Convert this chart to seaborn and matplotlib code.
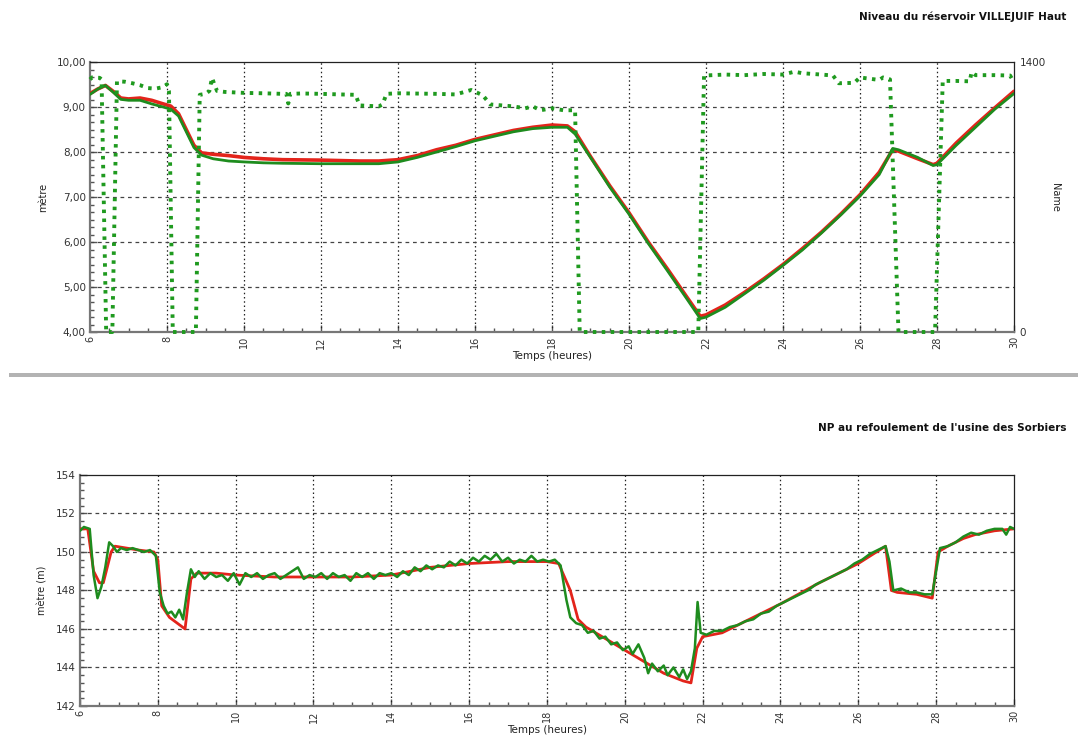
import numpy as np
import pandas as pd
import matplotlib
matplotlib.use("Agg")
import matplotlib.pyplot as plt
from matplotlib.ticker import MultipleLocator, FuncFormatter, FixedLocator
from matplotlib.patches import Rectangle
import seaborn as sns

# ---------------- data : top panel (reservoir level, metres) ----------------
lvl_t = [6.0, 6.2, 6.4, 6.6, 6.8, 7.0, 7.3, 7.6, 7.9, 8.1, 8.3, 8.5, 8.7, 8.9, 9.2, 9.6,
         10.0, 10.5, 11.0, 12.0, 13.0, 13.5, 14.0, 14.5, 15.0, 15.5, 16.0, 16.5, 17.0,
         17.5, 18.0, 18.4, 18.6, 19.0, 19.5, 20.0, 20.5, 21.0, 21.5, 21.85, 22.0, 22.5,
         23.0, 23.5, 24.0, 24.5, 25.0, 25.5, 26.0, 26.5, 26.85, 27.0, 27.5, 27.9, 28.0,
         28.5, 29.0, 29.5, 30.0]
lvl_measured = [9.30, 9.40, 9.48, 9.35, 9.20, 9.18, 9.20, 9.15, 9.07, 9.02, 8.85, 8.50,
                8.15, 7.98, 7.95, 7.92, 7.88, 7.85, 7.83, 7.82, 7.80, 7.80, 7.83, 7.92,
                8.05, 8.15, 8.28, 8.38, 8.48, 8.55, 8.60, 8.58, 8.45, 7.90, 7.25, 6.65,
                6.00, 5.40, 4.78, 4.35, 4.38, 4.60, 4.88, 5.18, 5.50, 5.85, 6.22, 6.62,
                7.05, 7.55, 8.05, 8.02, 7.85, 7.72, 7.75, 8.20, 8.60, 8.98, 9.35]
lvl_simulated = [9.28, 9.40, 9.48, 9.33, 9.17, 9.15, 9.15, 9.07, 9.00, 8.95, 8.80, 8.45,
                 8.10, 7.93, 7.85, 7.80, 7.78, 7.76, 7.75, 7.74, 7.74, 7.74, 7.78, 7.88,
                 8.00, 8.12, 8.25, 8.35, 8.45, 8.52, 8.55, 8.55, 8.40, 7.88, 7.22, 6.62,
                 5.97, 5.36, 4.74, 4.30, 4.33, 4.55, 4.85, 5.15, 5.48, 5.82, 6.20, 6.60,
                 7.02, 7.50, 8.08, 8.05, 7.88, 7.70, 7.72, 8.15, 8.55, 8.95, 9.30]

# pump flow (right axis, 0..1400)
pump_t = [6.0, 6.05, 6.25, 6.3, 6.42, 6.58, 6.7, 6.9, 7.1, 7.3, 7.5, 7.7, 7.9, 8.0, 8.05,
          8.15, 8.75, 8.85, 9.0, 9.1, 9.17, 9.22, 9.3, 9.5, 10.0, 10.5, 11.0, 11.1, 11.15,
          11.2, 11.5, 12.0, 12.5, 12.9, 13.0, 13.5, 13.6, 13.7, 14.0, 15.0, 15.5, 15.9,
          16.2, 16.4, 17.0, 17.3, 17.5, 17.7, 18.0, 18.3, 18.6, 18.72, 21.8, 21.95,
          22.5, 23.0, 23.5, 24.0, 24.3, 24.5, 25.0, 25.3, 25.45, 25.85, 26.0, 26.5,
          26.6, 26.78, 27.0, 27.95, 28.15, 28.5, 28.85, 28.9, 29.0, 29.5, 29.9, 30.0]
pump_flow = [1310, 1320, 1318, 1310, 0, 0, 1300, 1298, 1290, 1280, 1265, 1262, 1270, 1285,
             1250, 0, 0, 1230, 1235, 1250, 1318, 1290, 1250, 1245, 1240, 1238, 1235, 1235,
             1185, 1235, 1237, 1235, 1232, 1230, 1175, 1170, 1180, 1235, 1238, 1235, 1232,
             1255, 1228, 1180, 1170, 1160, 1170, 1150, 1160, 1150, 1150, 0, 0, 1330,
             1335, 1332, 1338, 1335, 1350, 1342, 1335, 1330, 1290, 1292, 1320, 1307,
             1320, 1310, 0, 0, 1302, 1302, 1300, 1348, 1332, 1332, 1330, 1295]

# ---------------- data : bottom panel (pressure head, m) ----------------
prs_red_t = [6.0, 6.2, 6.35, 6.5, 6.6, 6.8, 6.9, 7.2, 7.5, 7.9, 8.0, 8.1, 8.3, 8.5, 8.7,
             8.85, 9.0, 9.5, 10.0, 11.0, 12.0, 13.0, 14.0, 14.5, 15.0, 16.0, 17.0, 18.0,
             18.3, 18.6, 18.8, 19.0, 19.5, 20.0, 20.5, 21.0, 21.5, 21.7, 21.85, 22.0,
             22.5, 23.0, 24.0, 25.0, 26.0, 26.7, 26.85, 27.0, 27.5, 27.9, 28.05, 28.3,
             28.7, 29.0, 29.5, 30.0]
prs_red = [151.2, 151.2, 149.0, 148.4, 148.4, 150.0, 150.3, 150.2, 150.1, 150.0, 149.6,
           147.2, 146.6, 146.3, 146.0, 148.6, 148.9, 148.9, 148.8, 148.7, 148.7, 148.7,
           148.8, 149.0, 149.2, 149.4, 149.5, 149.5, 149.4, 148.0, 146.5, 146.1, 145.5,
           144.9, 144.3, 143.7, 143.3, 143.2, 145.0, 145.6, 145.8, 146.3, 147.3, 148.4,
           149.4, 150.3, 148.0, 147.9, 147.8, 147.6, 150.0, 150.3, 150.7, 150.9, 151.1,
           151.2]

prs_grn_t = [6.0, 6.1, 6.25, 6.35, 6.45, 6.55, 6.65, 6.75, 6.85, 6.95, 7.05, 7.2, 7.35,
             7.5, 7.65, 7.8, 7.95, 8.05, 8.15, 8.25, 8.35, 8.45, 8.55, 8.65, 8.75, 8.85,
             8.95, 9.05, 9.2, 9.35, 9.5, 9.65, 9.8, 9.95, 10.1, 10.25, 10.4, 10.55, 10.7,
             10.85, 11.0, 11.15, 11.3, 11.45, 11.6, 11.75, 11.9, 12.05, 12.2, 12.35, 12.5,
             12.65, 12.8, 12.95, 13.1, 13.25, 13.4, 13.55, 13.7, 13.85, 14.0, 14.15, 14.3,
             14.45, 14.6, 14.75, 14.9, 15.05, 15.2, 15.35, 15.5, 15.65, 15.8, 15.95, 16.1,
             16.25, 16.4, 16.55, 16.7, 16.85, 17.0, 17.15, 17.3, 17.45, 17.6, 17.75, 17.9,
             18.05, 18.2, 18.35, 18.5, 18.6, 18.75, 18.9, 19.05, 19.2, 19.35, 19.5, 19.65,
             19.8, 19.95, 20.1, 20.2, 20.35, 20.5, 20.6, 20.7, 20.85, 21.0, 21.1, 21.25,
             21.4, 21.5, 21.6, 21.7, 21.8, 21.87, 21.95, 22.1, 22.3, 22.5, 22.7, 22.9, 23.1,
             23.3, 23.5, 23.7, 23.9, 24.1, 24.3, 24.5, 24.7, 24.9, 25.1, 25.3, 25.5, 25.7,
             25.9, 26.1, 26.3, 26.5, 26.7, 26.8, 26.9, 27.1, 27.3, 27.5, 27.7, 27.9, 28.0,
             28.1, 28.3, 28.5, 28.7, 28.9, 29.1, 29.3, 29.5, 29.7, 29.8, 29.9, 30.0]
prs_grn = [151.1, 151.3, 151.2, 148.8, 147.6, 148.2, 149.2, 150.5, 150.3, 150.0, 150.2,
           150.1, 150.2, 150.1, 150.0, 150.1, 149.8, 147.9, 147.2, 146.8, 146.9, 146.6,
           147.0, 146.5, 147.9, 149.1, 148.7, 149.0, 148.6, 148.9, 148.7, 148.8, 148.5,
           148.9, 148.3, 148.9, 148.7, 148.9, 148.6, 148.8, 148.9, 148.6, 148.8, 149.0,
           149.2, 148.6, 148.8, 148.7, 148.9, 148.6, 148.9, 148.7, 148.8, 148.5, 148.9,
           148.7, 148.9, 148.6, 148.9, 148.8, 148.9, 148.7, 149.0, 148.8, 149.2, 149.0,
           149.3, 149.1, 149.3, 149.2, 149.5, 149.3, 149.6, 149.4, 149.7, 149.5, 149.8,
           149.6, 149.9, 149.5, 149.7, 149.4, 149.6, 149.5, 149.8, 149.5, 149.6, 149.5,
           149.6, 149.3, 147.5, 146.6, 146.3, 146.2, 145.8, 145.9, 145.5, 145.6, 145.2,
           145.3, 144.9, 145.1, 144.7, 145.2, 144.5, 143.7, 144.2, 143.8, 144.1, 143.6,
           144.0, 143.5, 143.9, 143.4, 143.8, 145.0, 147.4, 145.8, 145.7, 145.9, 145.9,
           146.1, 146.2, 146.4, 146.5, 146.8, 146.9, 147.2, 147.4, 147.6, 147.8, 148.0,
           148.3, 148.5, 148.7, 148.9, 149.1, 149.4, 149.6, 149.9, 150.1, 150.3, 149.5,
           148.0, 148.1, 147.9, 147.9, 147.8, 147.8, 149.0, 150.2, 150.3, 150.5, 150.8,
           151.0, 150.9, 151.1, 151.2, 151.2, 150.9, 151.3, 151.2]

top_title = "Niveau du réservoir VILLEJUIF Haut"
bottom_title = "NP au refoulement de l'usine des Sorbiers"
x_label = "Temps (heures)"

# ---------------- styling ----------------
sns.set_theme(style="white")
plt.rcParams["font.family"] = ["DejaVu Sans"]

RED = "#e3241b"
GREEN = "#1e8c1e"
PUMP = "#1f9a1f"
TICK_COLOR = "#333333"

fig = plt.figure(figsize=(10.78, 7.35), dpi=100)
ax1 = fig.add_axes([0.0835, 0.5483, 0.8571, 0.3673])
ax2 = fig.add_axes([0.0742, 0.0395, 0.8664, 0.3143])


def style_axes(ax):
    ax.set_xlim(6, 30)
    ax.xaxis.set_major_locator(MultipleLocator(2))
    ax.xaxis.set_minor_locator(MultipleLocator(0.5))
    ax.xaxis.set_major_formatter(FuncFormatter(lambda v, p: f"{int(round(v))}"))
    ax.tick_params(axis="x", which="major", direction="in", length=5, width=1,
                   labelsize=7, labelrotation=90, colors="#555555", labelcolor=TICK_COLOR, pad=3)
    ax.tick_params(axis="x", which="minor", direction="in", length=3, width=1, colors="#555555")
    ax.tick_params(axis="y", which="major", direction="in", length=5, width=1,
                   labelsize=7.5, colors="#555555", labelcolor=TICK_COLOR, pad=3)
    ax.tick_params(axis="y", which="minor", direction="in", length=3, width=1, colors="#555555")
    ax.tick_params(bottom=True, left=True, which="both")
    ax.grid(False)
    for xv in range(8, 30, 2):
        ax.axvline(xv, color="#222222", lw=0.9, ls=(0, (1.2, 2.2)), zorder=1)
    for name, sp in ax.spines.items():
        sp.set_color("#777777" if name in ("left", "bottom") else "#222222")
        sp.set_linewidth(1.6 if name in ("left", "bottom") else 0.9)
    ax.set_xlabel(x_label, fontsize=7.5, color="#222222", labelpad=2)


# ---------------- top panel ----------------
style_axes(ax1)
ax1.set_ylim(4, 10)
ax1.yaxis.set_major_locator(MultipleLocator(1))
ax1.yaxis.set_minor_locator(MultipleLocator(1 / 6))
ax1.yaxis.set_major_formatter(FuncFormatter(lambda v, p: f"{v:.2f}".replace(".", ",")))
for yv in range(5, 10):
    ax1.axhline(yv, color="#444444", lw=0.9, ls=(0, (3, 3)), zorder=1)
ax1.set_ylabel("mètre", fontsize=7, color="#222222", labelpad=6)

sns.lineplot(x=lvl_t, y=lvl_measured, ax=ax1, color=RED, linewidth=2.6,
             sort=False, estimator=None, zorder=4)
sns.lineplot(x=lvl_t, y=lvl_simulated, ax=ax1, color=GREEN, linewidth=2.0,
             sort=False, estimator=None, zorder=5)

ax1r = ax1.twinx()
ax1r.set_ylim(0, 1400)
ax1r.yaxis.set_major_locator(FixedLocator([0, 1400]))
ax1r.tick_params(axis="y", length=0, labelsize=7.5, labelcolor=TICK_COLOR, pad=4)
ax1r.set_ylabel("Name", fontsize=7, color="#222222", rotation=270, labelpad=10)
for sp in ax1r.spines.values():
    sp.set_visible(False)
ax1r.grid(False)
ax1r.patch.set_visible(False)

sns.lineplot(x=pump_t, y=pump_flow, ax=ax1r, color=PUMP, linewidth=2.8,
             linestyle=(0, (0.9, 1.4)), sort=False, estimator=None, zorder=6,
             clip_on=False)

# ---------------- bottom panel ----------------
style_axes(ax2)
ax2.set_ylim(142, 154)
ax2.yaxis.set_major_locator(MultipleLocator(2))
ax2.yaxis.set_minor_locator(MultipleLocator(0.4))
ax2.yaxis.set_major_formatter(FuncFormatter(lambda v, p: f"{int(round(v))}"))
for yv in range(144, 154, 2):
    ax2.axhline(yv, color="#444444", lw=0.9, ls=(0, (3, 3)), zorder=1)
ax2.set_ylabel("mètre (m)", fontsize=7, color="#222222", labelpad=6)

sns.lineplot(x=prs_red_t, y=prs_red, ax=ax2, color=RED, linewidth=2.0,
             sort=False, estimator=None, zorder=4)
sns.lineplot(x=prs_grn_t, y=prs_grn, ax=ax2, color=GREEN, linewidth=1.8,
             sort=False, estimator=None, zorder=5)

# ---------------- titles and separator ----------------
fig.text(0.989, 0.984, top_title, ha="right", va="top", fontsize=7.5,
         fontweight="bold", color="#111111")
fig.text(0.989, 0.424, bottom_title, ha="right", va="top", fontsize=7.5,
         fontweight="bold", color="#111111")
fig.patches.append(Rectangle((0.008, 0.4875), 0.992, 0.0055, transform=fig.transFigure,
                             facecolor="#b3b3b3", edgecolor="none", figure=fig))

fig.savefig("out.png", dpi=100)
